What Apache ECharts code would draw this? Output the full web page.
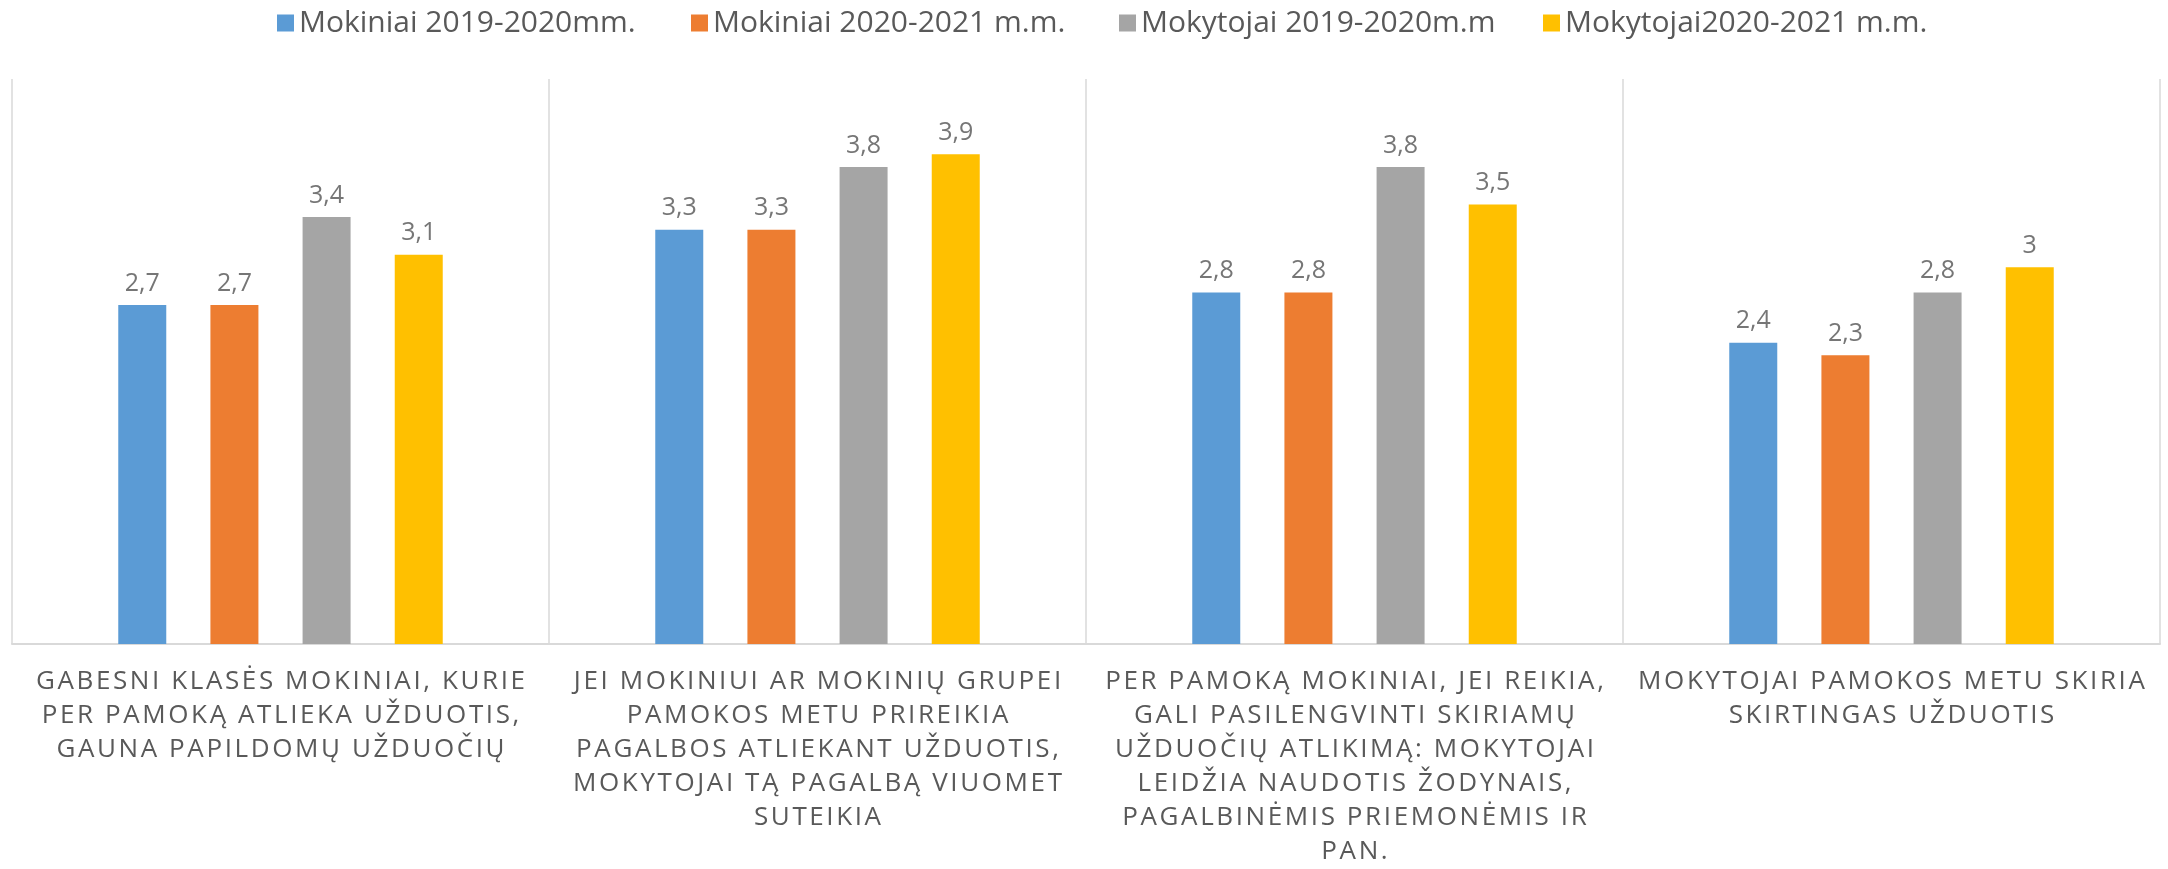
<!DOCTYPE html>
<html>
<head>
<meta charset="utf-8">
<script src="https://cdn.jsdelivr.net/npm/echarts@6/dist/echarts.min.js"></script>
<style>
  html, body { margin: 0; padding: 0; background: #fff; }
  #chart { width: 2168px; height: 869px; }
</style>
</head>
<body>
<div id="chart"></div>
<script>
// kategorijos (eilutės laužiamos kaip originale)
const categories = [
  "GABESNI KLASĖS MOKINIAI, KURIE\nPER PAMOKĄ ATLIEKA UŽDUOTIS,\nGAUNA PAPILDOMŲ UŽDUOČIŲ",
  "JEI MOKINIUI AR MOKINIŲ GRUPEI\nPAMOKOS METU PRIREIKIA\nPAGALBOS ATLIEKANT UŽDUOTIS,\nMOKYTOJAI TĄ PAGALBĄ VIUOMET\nSUTEIKIA",
  "PER PAMOKĄ MOKINIAI, JEI REIKIA,\nGALI PASILENGVINTI SKIRIAMŲ\nUŽDUOČIŲ ATLIKIMĄ: MOKYTOJAI\nLEIDŽIA NAUDOTIS ŽODYNAIS,\nPAGALBINĖMIS PRIEMONĖMIS IR\nPAN.",
  "MOKYTOJAI PAMOKOS METU SKIRIA\nSKIRTINGAS UŽDUOTIS"
];
const seriesNames = [
  "Mokiniai 2019-2020mm.",
  "Mokiniai 2020-2021 m.m.",
  "Mokytojai 2019-2020m.m",
  "Mokytojai2020-2021 m.m."
];
const mokiniai1920 = [2.7, 3.3, 2.8, 2.4];
const mokiniai2021 = [2.7, 3.3, 2.8, 2.3];
const mokytojai1920 = [3.4, 3.8, 3.8, 2.8];
const mokytojai2021 = [3.1, 3.9, 3.5, 3];

const colors = ["#5b9bd5", "#ed7d31", "#a5a5a5", "#ffc000"];
const values = [mokiniai1920, mokiniai2021, mokytojai1920, mokytojai2021];
const legendLeft = [272, 686, 1114, 1538];

// raidžių tarpai kaip originale (hair space tarp simbolių)
const spaced = s => s.split('\n').map(l => Array.from(l).join('\u200A')).join('\n');

const chart = echarts.init(document.getElementById('chart'));

chart.setOption({
  color: colors,
  textStyle: { fontFamily: "Open Sans" },
  legend: seriesNames.map((n, i) => ({
    data: [n],
    left: legendLeft[i],
    top: 3,
    itemWidth: 17,
    itemHeight: 17,
    itemGap: 6,
    icon: 'rect',
    textStyle: { color: '#595959', fontSize: 30, fontFamily: "Open Sans" }
  })),
  grid: {
    left: 12,
    right: 8,
    top: 79,
    bottom: 221
  },
  xAxis: {
    type: 'category',
    data: categories,
    axisTick: { show: false },
    axisLine: { lineStyle: { color: '#d9d9d9', width: 2 } },
    splitLine: { show: true, lineStyle: { color: '#d9d9d9', width: 1.5 } },
    axisLabel: {
      interval: 0,
      color: '#595959',
      fontSize: 26,
      lineHeight: 34,
      margin: 21,
      fontFamily: "Open Sans",
      formatter: spaced
    }
  },
  yAxis: {
    type: 'value',
    min: 0,
    max: 4.5,
    show: false,
    splitLine: { show: false }
  },
  series: seriesNames.map((n, i) => ({
    name: n,
    type: 'bar',
    data: values[i],
    barWidth: 48,
    barGap: '92%',
    label: {
      show: true,
      position: 'top',
      distance: 9,
      color: '#767676',
      fontSize: 25,
      fontFamily: "Open Sans",
      formatter: p => String(p.value).replace('.', ',')
    }
  }))
});
</script>
</body>
</html>
